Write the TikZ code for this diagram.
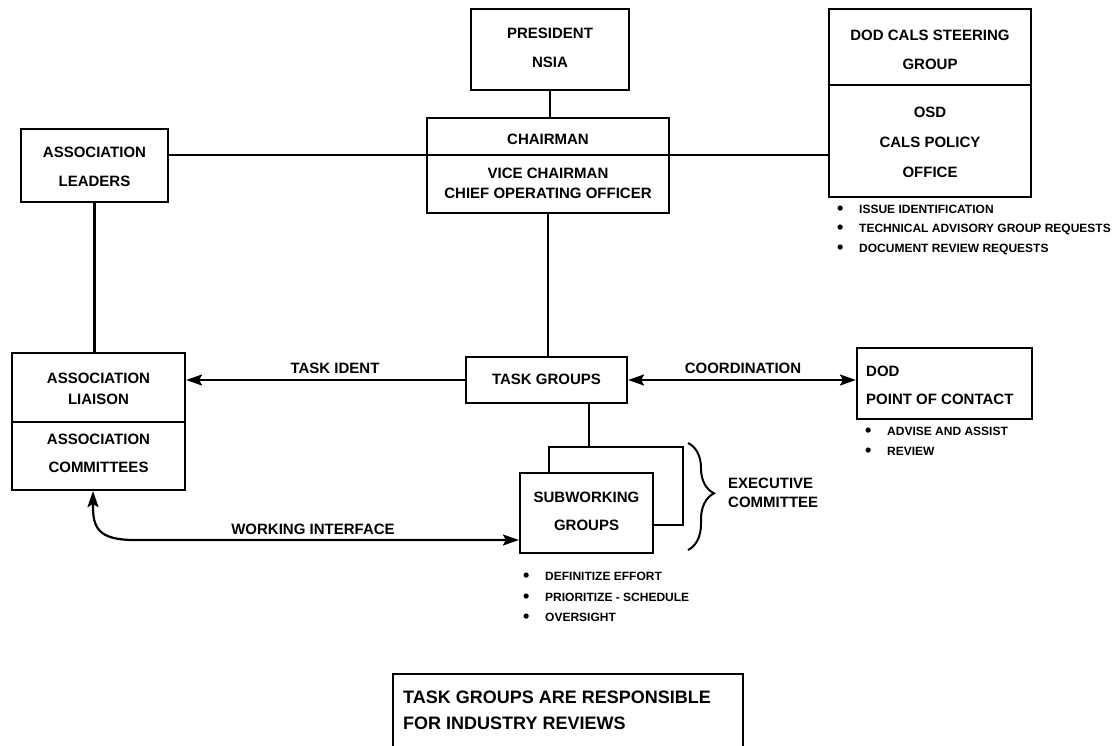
\documentclass[tikz,border=0pt]{standalone}
\usepackage{fontspec}
\setmainfont{Liberation Sans}
\usetikzlibrary{arrows.meta,calc,decorations.pathreplacing}
\newcommand{\bul}{\makebox[22pt][l]{\raisebox{-1.2pt}{\fontsize{18}{14}\selectfont •}}}
\begin{document}
\begin{tikzpicture}[x=1pt,y=-1pt,
  box/.style={draw, line width=2.2pt, inner sep=0pt, fill=white},
  lbl/.style={font=\fontsize{15}{18}\selectfont\bfseries, inner sep=0pt},
  lblw/.style={lbl, anchor=west},
  sm/.style={font=\fontsize{12}{14}\selectfont\bfseries, inner sep=0pt, anchor=base west},
  big/.style={font=\fontsize{18}{22}\selectfont\bfseries, inner sep=0pt, anchor=west},
  conn/.style={line width=2.2pt},
  tip/.tip={Stealth[length=16pt,width=11pt,inset=3pt]},
  arr/.style={conn, -tip},
  dbl/.style={conn, tip-tip}
]
\useasboundingbox (0,0) rectangle (1120,745);
\clip (0,0) rectangle (1120,745);

% boxes
\node[box, minimum width=147, minimum height=73] (leaders) at (94.5,165.5) {};
\node[box, minimum width=158, minimum height=81] (president) at (550,49.5) {};
\node[box, minimum width=242, minimum height=95] (chair) at (548,165.5) {};
\node[box, minimum width=202, minimum height=188] (cals) at (930,103) {};
\node[box, minimum width=173, minimum height=137] (liaison) at (98.5,421.5) {};
\node[box, minimum width=161, minimum height=46] (task) at (546.5,380) {};
\node[box, minimum width=175, minimum height=71] (poc) at (944.5,383.5) {};
\node[box, minimum width=134, minimum height=78] (back) at (616,486) {};
\node[box, minimum width=133, minimum height=80] (front) at (586.5,513) {};
\node[box, minimum width=350, minimum height=110] (note) at (568,729) {};

% dividers
\coordinate (hl) at (0,155);
\coordinate (cd) at (0,85);
\coordinate (ld) at (0,422);
\draw[conn] (chair.west |- hl) -- (chair.east |- hl);
\draw[conn] (cals.west |- cd) -- (cals.east |- cd);
\draw[conn] (liaison.west |- ld) -- (liaison.east |- ld);

% connectors
\draw[conn] (president.south) -- (president.south |- chair.north);
\draw[conn] (leaders.east |- hl) -- (chair.west |- hl);
\draw[conn] (chair.east |- hl) -- (cals.west |- hl);
\draw[conn] (leaders.south) -- (leaders.south |- liaison.north);
\draw[conn] (chair.south) -- (chair.south |- task.north);
\draw[arr] (task.west) -- (task.west -| liaison.east);
\draw[dbl] (task.east) -- (task.east -| poc.west);
\coordinate (tb) at ($(task.south)+(42.5,0)$);
\draw[conn] (tb) -- (tb |- back.north);
\coordinate (wy) at (0,540);
\coordinate (wiS) at ($(liaison.south)+(-5.5,0)$);
\coordinate (wiC) at ($(wiS |- wy)+(42,0)$);
\draw[dbl] (wiS) -- ($(wiS)+(0,16)$) .. controls ($(wiS |- wy)+(0,-10)$) and ($(wiS |- wy)+(8,0)$) .. (wiC) -- (front.west |- wy);

% brace
\draw[line width=2pt, decorate, decoration={brace, amplitude=26pt, aspect=0.47}] (688,443) -- (688,550);

% box texts
\node[lbl] (t1) at (94.5,152) {ASSOCIATION};
\node[lbl] (t2) at (94.5,181) {LEADERS};
\node[lbl] (t3) at (550,33) {PRESIDENT};
\node[lbl] (t4) at (550,62) {NSIA};
\node[lbl] (t5) at (548,139) {CHAIRMAN};
\node[lbl] (t6) at (548,173) {VICE CHAIRMAN};
\node[lbl] (t7) at (548,193) {CHIEF OPERATING OFFICER};
\node[lbl] (t8) at (930,35) {DOD CALS STEERING};
\node[lbl] (t9) at (930,64) {GROUP};
\node[lbl] (t10) at (930,112) {OSD};
\node[lbl] (t11) at (930,142) {CALS POLICY};
\node[lbl] (t12) at (930,172) {OFFICE};
\node[lbl] (t13) at (98.5,378) {ASSOCIATION};
\node[lbl] (t14) at (98.5,399) {LIAISON};
\node[lbl] (t15) at (98.5,439) {ASSOCIATION};
\node[lbl] (t16) at (98.5,467) {COMMITTEES};
\node[lbl] (t17) at (546.5,379) {TASK GROUPS};
\node[lblw] (t18) at (866,371) {DOD};
\node[lblw] (t19) at (866,399) {POINT OF CONTACT};
\node[lbl] (t20) at (586.5,497) {SUBWORKING};
\node[lbl] (t21) at (586.5,525) {GROUPS};

% connector labels
\node[lbl] (l1) at (335,368) {TASK IDENT};
\node[lbl] (l2) at (743,368) {COORDINATION};
\node[lbl] (l3) at (313,529) {WORKING INTERFACE};
\node[lblw] (l4) at (728,483) {EXECUTIVE};
\node[lblw] (l5) at (728,502) {COMMITTEE};

% bullet lists
\node[sm] (b1) at (837,213) {\bul ISSUE IDENTIFICATION};
\node[sm] (b2) at (837,232) {\bul TECHNICAL ADVISORY GROUP REQUESTS};
\node[sm] (b3) at (837,252) {\bul DOCUMENT REVIEW REQUESTS};
\node[sm] (b4) at (865,435) {\bul ADVISE AND ASSIST};
\node[sm] (b5) at (865,455) {\bul REVIEW};
\node[sm] (b6) at (523,580) {\bul DEFINITIZE EFFORT};
\node[sm] (b7) at (523,601) {\bul PRIORITIZE - SCHEDULE};
\node[sm] (b8) at (523,621) {\bul OVERSIGHT};

% note
\node[big] (n1) at (403,697) {TASK GROUPS ARE RESPONSIBLE};
\node[big] (n2) at (403,723) {FOR INDUSTRY REVIEWS};
\end{tikzpicture}
\end{document}
